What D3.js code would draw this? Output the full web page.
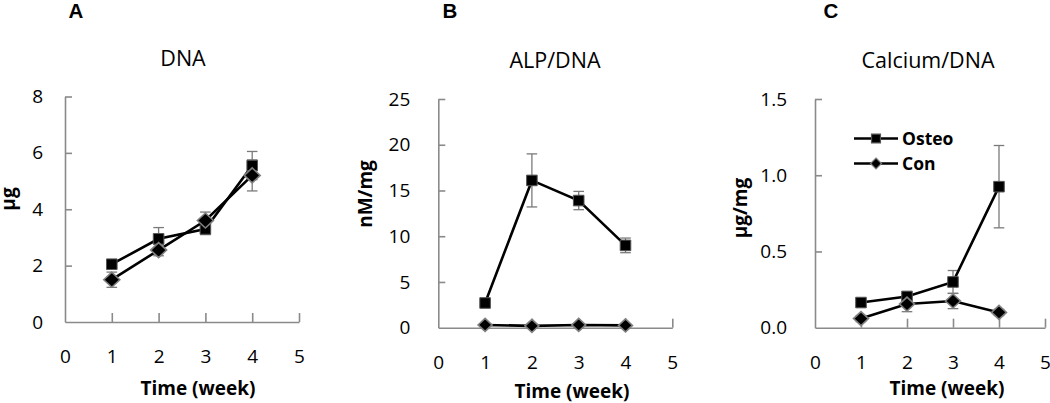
<!DOCTYPE html>
<html>
<head>
<meta charset="utf-8">
<script src="https://cdn.jsdelivr.net/npm/d3@7"></script>
<style>
  html, body { margin: 0; padding: 0; background: #fff; }
  svg { display: block; }
  text { font-family: "Open Sans", sans-serif; fill: #000; }
</style>
</head>
<body>
<svg id="chart" width="1050" height="403"></svg>
<script>
// ---- data ----
const weeks = [1, 2, 3, 4];
const xTicks = [0, 1, 2, 3, 4, 5];

const dnaOsteo = [2.05, 2.95, 3.3, 5.55];
const dnaOsteoErr = [0.15, 0.4, 0.2, 0.5];
const dnaCon = [1.5, 2.55, 3.6, 5.2];
const dnaConErr = [0.27, 0.2, 0.3, 0.55];

const alpOsteo = [2.7, 16.1, 13.9, 9.0];
const alpOsteoErr = [0.2, 2.9, 1.0, 0.8];
const alpCon = [0.3, 0.2, 0.3, 0.25];
const alpConErr = [0.05, 0.05, 0.05, 0.05];

const caOsteo = [0.165, 0.205, 0.30, 0.925];
const caOsteoErr = [0.02, 0.02, 0.075, 0.27];
const caCon = [0.06, 0.155, 0.175, 0.10];
const caConErr = [0.02, 0.05, 0.05, 0.02];

const dnaTicks = [0, 2, 4, 6, 8];
const alpTicks = [0, 5, 10, 15, 20, 25];
const caTicks = [0, 0.5, 1.0, 1.5];

const panelLetters = ["A", "B", "C"];
const panelTitles = ["DNA", "ALP/DNA", "Calcium/DNA"];
const yLabels = ["μg", "nM/mg", "μg/mg"];
const xLabel = "Time (week)";
const seriesNames = ["Osteo", "Con"];

// ---- layout ----
const panels = [
  { letter: panelLetters[0], title: panelTitles[0], ylab: yLabels[0],
    osteo: dnaOsteo, osteoErr: dnaOsteoErr, con: dnaCon, conErr: dnaConErr,
    yTicks: dnaTicks, yMax: 8, fmt: d3.format("d"),
    x0: 65, x5: 299, y0: 322, yTop: 96.5, yPad: 22,
    letterX: 76, titleX: 183, titleY: 66, ylabX: 15, ylabY: 199, xlabX: 198, xlabY: 395,
    dW: 8, dH: 7.5 },
  { letter: panelLetters[1], title: panelTitles[1], ylab: yLabels[1],
    osteo: alpOsteo, osteoErr: alpOsteoErr, con: alpCon, conErr: alpConErr,
    yTicks: alpTicks, yMax: 25, fmt: d3.format("d"),
    x0: 438.3, x5: 672.3, y0: 327.7, yTop: 99, yPad: 28,
    letterX: 450, titleX: 555, titleY: 68, ylabX: 372, ylabY: 194, xlabX: 572, xlabY: 398,
    dW: 7, dH: 6.5 },
  { letter: panelLetters[2], title: panelTitles[2], ylab: yLabels[2],
    osteo: caOsteo, osteoErr: caOsteoErr, con: caCon, conErr: caConErr,
    yTicks: caTicks, yMax: 1.5, fmt: d3.format(".1f"),
    x0: 815, x5: 1045, y0: 327.7, yTop: 99, yPad: 28,
    letterX: 831, titleX: 928, titleY: 68, ylabX: 747, ylabY: 208, xlabX: 947, xlabY: 395,
    dW: 7.5, dH: 7, legend: true }
];

const svg = d3.select("#chart");
const axisColor = "#8a8a8a";
const errColor = "#7a7a7a";

function diamondPath(w, h) {
  const p = d3.path();
  p.moveTo(0, -h); p.lineTo(w, 0); p.lineTo(0, h); p.lineTo(-w, 0); p.closePath();
  return p.toString();
}

panels.forEach(p => {
  const x = d3.scaleLinear().domain([0, 5]).range([p.x0, p.x5]);
  const y = d3.scaleLinear().domain([0, p.yMax]).range([p.y0, p.yTop]);
  const g = svg.append("g");

  // axes
  const yAxis = d3.axisLeft(y).tickValues(p.yTicks).tickFormat(p.fmt)
    .tickSizeInner(-7).tickSizeOuter(0).tickPadding(p.yPad);
  const ya = g.append("g").attr("transform", `translate(${p.x0},0)`).call(yAxis);
  const xAxis = d3.axisBottom(x).tickValues(xTicks).tickFormat(d3.format("d"))
    .tickSizeInner(-9).tickSizeOuter(0).tickPadding(27.5);
  const xa = g.append("g").attr("transform", `translate(0,${p.y0})`).call(xAxis);
  [ya, xa].forEach(a => {
    a.select(".domain").attr("stroke", axisColor).attr("stroke-width", 1.6);
    a.selectAll(".tick line").attr("stroke", axisColor).attr("stroke-width", 1.6);
    a.selectAll(".tick text").attr("fill", "#000").style("font-size", "19px")
      .style("font-family", "'Open Sans', sans-serif");
  });
  xa.selectAll(".tick").filter(d => d === 0).select("line").remove();
  ya.selectAll(".tick").filter(d => d === 0).select("line").remove();

  // labels
  g.append("text").attr("x", p.letterX).attr("y", 18.3).attr("text-anchor", "middle")
    .style("font-family", "'Liberation Sans', Arial, sans-serif")
    .style("font-weight", "bold").style("font-size", "20.5px").text(p.letter);
  g.append("text").attr("x", p.titleX).attr("y", p.titleY).attr("text-anchor", "middle")
    .style("font-size", "21.5px").text(p.title);
  g.append("text").attr("transform", `translate(${p.ylabX},${p.ylabY}) rotate(-90)`)
    .attr("text-anchor", "middle")
    .style("font-weight", "bold").style("font-size", "19px").text(p.ylab);
  g.append("text").attr("x", p.xlabX).attr("y", p.xlabY).attr("text-anchor", "middle")
    .style("font-weight", "bold").style("font-size", "19px").text(xLabel);

  const series = [
    { vals: p.osteo, err: p.osteoErr, shape: "square" },
    { vals: p.con, err: p.conErr, shape: "diamond" }
  ];

  // error bars
  series.forEach(s => {
    const eg = g.append("g").attr("stroke", errColor).attr("stroke-width", 1.3).attr("fill", "none");
    weeks.forEach((w, i) => {
      const cx = x(w), top = y(s.vals[i] + s.err[i]), bot = y(Math.max(0, s.vals[i] - s.err[i]));
      eg.append("line").attr("x1", cx).attr("x2", cx).attr("y1", top).attr("y2", bot);
      eg.append("line").attr("x1", cx - 5.3).attr("x2", cx + 5.3).attr("y1", top).attr("y2", top);
      eg.append("line").attr("x1", cx - 5.3).attr("x2", cx + 5.3).attr("y1", bot).attr("y2", bot);
    });
  });

  const line = d3.line().x((d, i) => x(weeks[i])).y(d => y(d));
  series.forEach(s => {
    g.append("path").datum(s.vals).attr("d", line)
      .attr("fill", "none").attr("stroke", "#000").attr("stroke-width", 2.6);
    const dpath = s.shape === "square"
      ? d3.symbol().type(d3.symbolSquare).size(112)()
      : diamondPath(p.dW, p.dH);
    g.selectAll(null).data(s.vals).enter().append("path")
      .attr("d", dpath)
      .attr("transform", (d, i) => `translate(${x(weeks[i])},${y(d)})`)
      .attr("fill", "#000")
      .attr("stroke", s.shape === "square" ? "#555" : "#808080")
      .attr("stroke-width", s.shape === "square" ? 1 : 1.6);
  });

  if (p.legend) {
    const items = [
      { name: seriesNames[0], y: 138.5, shape: "square" },
      { name: seriesNames[1], y: 163.5, shape: "diamond" }
    ];
    items.forEach(it => {
      g.append("line").attr("x1", 854).attr("x2", 898).attr("y1", it.y).attr("y2", it.y)
        .attr("stroke", "#000").attr("stroke-width", 2.6);
      const dpath = it.shape === "square"
        ? d3.symbol().type(d3.symbolSquare).size(80)()
        : diamondPath(5.5, 5.5);
      g.append("path").attr("d", dpath).attr("transform", `translate(876,${it.y})`)
        .attr("fill", "#000").attr("stroke", it.shape === "square" ? "#555" : "#808080")
        .attr("stroke-width", 1.2);
      g.append("text").attr("x", 902).attr("y", it.y + 6.5)
        .style("font-weight", "bold").style("font-size", "17.5px").text(it.name);
    });
  }
});
</script>
</body>
</html>
